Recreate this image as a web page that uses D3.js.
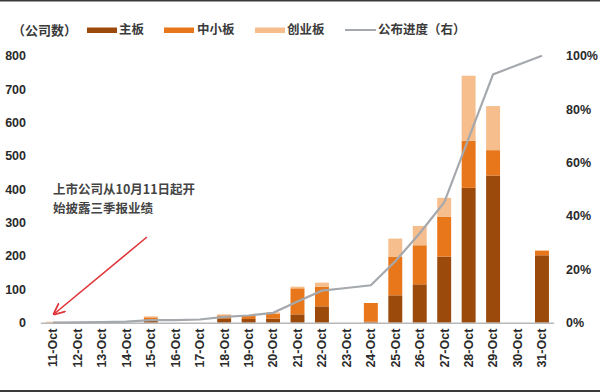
<!DOCTYPE html>
<html><head><meta charset="utf-8">
<script src="https://cdn.jsdelivr.net/npm/d3@7"></script>
<style>body{margin:0;background:#fff}svg{display:block}</style>
</head><body>
<svg id="c" width="600" height="392"></svg>
<script>
const dates = ["11-Oct","12-Oct","13-Oct","14-Oct","15-Oct","16-Oct","17-Oct","18-Oct","19-Oct","20-Oct","21-Oct","22-Oct","23-Oct","24-Oct","25-Oct","26-Oct","27-Oct","28-Oct","29-Oct","30-Oct","31-Oct"];
const mainBoard = [0,0,0,0,6,0,0,13,11,12,25,49,0,3,82,115,198,404,441,0,202];
const smeBoard  = [1,0,0,0,10,0,0,9,9,14,78,59,0,56,115,117,120,141,76,0,14];
const chinext   = [2,0,0,0,3,0,0,3,3,5,5,12,0,0,55,58,56,195,132,0,0];
const progress  = [0,0.1,0.2,0.4,1.0,1.0,1.2,2.2,2.7,3.7,7.9,12,13,14,23,33.5,45,69,93,96.5,100];
const leftTicks = [0,100,200,300,400,500,600,700,800];
const rightTicks = [0,20,40,60,80,100];
const seriesNames = ["主板","中小板","创业板"];
const lineName = "公布进度（右）";
const unitLabel = "（公司数）";
const noteLines = ["上市公司从10月11日起开","始披露三季报业绩"];
const colors = ["#9b4a0c","#e8761b","#f6be8c"];
const lineColor = "#a5a8ad";

const svg = d3.select("#c");
const cjk = "'Noto Sans CJK SC', sans-serif";
const lat = "'Liberation Sans', Arial, sans-serif";

const x = d3.scaleBand().domain(dates).range([40.8, 554.2]).paddingInner(0.43).paddingOuter(0.215);
const y = d3.scaleLinear().domain([0,800]).range([322.7, 55.7]);
const y2 = d3.scaleLinear().domain([0,100]).range([322.7, 55.7]);

// borders
svg.append("rect").attr("x",0).attr("y",0).attr("width",600).attr("height",1.5).attr("fill","#3a3a3a");
svg.append("rect").attr("x",0).attr("y",390).attr("width",600).attr("height",2).attr("fill","#3a3a3a");

// stacked bars
const rows = dates.map((d,i)=>({date:d, a:mainBoard[i], b:smeBoard[i], c:chinext[i]}));
const stack = d3.stack().keys(["a","b","c"])(rows);
svg.append("g").selectAll("g").data(stack).join("g").attr("fill",(d,i)=>colors[i])
  .selectAll("rect").data(d=>d).join("rect")
  .attr("x",d=>x(d.data.date)).attr("width",x.bandwidth())
  .attr("y",d=>y(d[1])).attr("height",d=>Math.max(0,y(d[0])-y(d[1])));

// baseline
svg.append("line").attr("x1",40.8).attr("x2",554.2).attr("y1",y(0)+0.5).attr("y2",y(0)+0.5)
  .attr("stroke","#b8b8b8").attr("stroke-width",1.5);

// line
const line = d3.line().x((d,i)=>x(dates[i])+x.bandwidth()/2).y(d=>y2(d));
svg.append("path").datum(progress).attr("d",line).attr("fill","none")
  .attr("stroke",lineColor).attr("stroke-width",2.2);

// left axis
const la = svg.append("g").attr("transform","translate(26,0)")
  .call(d3.axisLeft(y).tickValues(leftTicks).tickSize(0).tickPadding(0));
la.select(".domain").remove();
la.selectAll("text").attr("font-family",lat).attr("font-size",12.5).attr("fill","#2a2a2a").attr("font-weight","bold");

// right axis
const ra = svg.append("g").attr("transform","translate(566,0)")
  .call(d3.axisRight(y2).tickValues(rightTicks).tickFormat(d=>d+"%").tickSize(0).tickPadding(0));
ra.select(".domain").remove();
ra.selectAll("text").attr("font-family",lat).attr("font-size",12.5).attr("fill","#2a2a2a").attr("font-weight","bold");

// x axis
const xa = svg.append("g").attr("transform",`translate(0,${y(0)})`)
  .call(d3.axisBottom(x).tickSize(0).tickPadding(0));
xa.select(".domain").remove();
xa.selectAll("text").attr("font-family",lat).attr("font-size",12.5).attr("fill","#2a2a2a").attr("font-weight","bold")
  .attr("text-anchor","end").attr("transform","rotate(-90)").attr("x",-6).attr("y",0).attr("dy","0.35em");

// legend
const lg = svg.append("g");
lg.append("text").attr("x",12).attr("y",30).attr("dy","0.35em").text(unitLabel)
  .attr("font-family",cjk).attr("font-size",13).attr("font-weight","bold").attr("fill","#3a3a3a");
const legX = [87,164,255];
const legTX = [119,197,287];
seriesNames.forEach((n,i)=>{
  lg.append("rect").attr("x",legX[i]).attr("y",27.5).attr("width",30).attr("height",5.5).attr("fill",colors[i]);
  lg.append("text").attr("x",legTX[i]).attr("y",30).attr("dy","0.35em").text(n)
    .attr("font-family",cjk).attr("font-size",12.5).attr("font-weight","bold").attr("fill","#3a3a3a");
});
lg.append("line").attr("x1",345).attr("x2",376).attr("y1",30).attr("y2",30).attr("stroke",lineColor).attr("stroke-width",2);
lg.append("text").attr("x",378).attr("y",30).attr("dy","0.35em").text(lineName)
  .attr("font-family",cjk).attr("font-size",12.5).attr("font-weight","bold").attr("fill","#3a3a3a");

// annotation
noteLines.forEach((t,i)=>{
  svg.append("text").attr("x",53).attr("y",190+i*18.5).attr("dy","0.35em").text(t)
    .attr("font-family",cjk).attr("font-size",12.5).attr("font-weight","bold").attr("fill","#444");
});
const defs = svg.append("defs");
defs.append("marker").attr("id","ah").attr("viewBox","0 0 10 10").attr("refX",9).attr("refY",5)
  .attr("markerWidth",7.5).attr("markerHeight",7.5).attr("orient","auto-start-reverse")
  .append("path").attr("d","M0,0.5 L10,5 L0,9.5").attr("fill","none").attr("stroke","#e0353a").attr("stroke-width",1.5);
svg.append("line").attr("x1",147).attr("y1",237).attr("x2",x(dates[0])+8).attr("y2",314)
  .attr("stroke","#e0353a").attr("stroke-width",1.6).attr("marker-end","url(#ah)");
</script>
</body></html>
